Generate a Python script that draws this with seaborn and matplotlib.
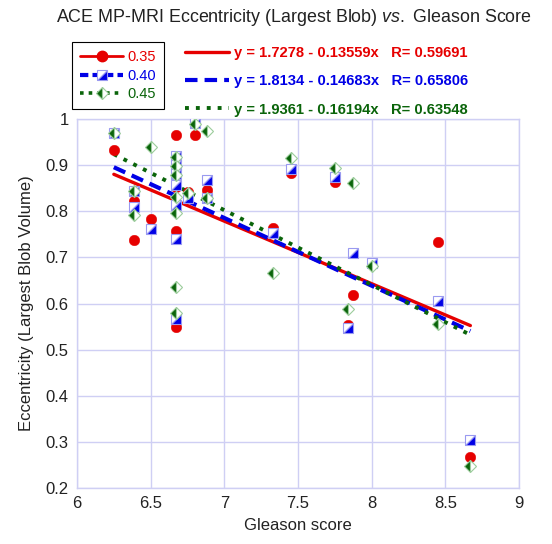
import matplotlib
matplotlib.use("Agg")
import matplotlib.pyplot as plt
from matplotlib.markers import MarkerStyle
from matplotlib.lines import Line2D
from matplotlib.transforms import Affine2D
import numpy as np
import pandas as pd
import seaborn as sns

# ---------------- data ----------------
gleason = [6.25, 6.39, 6.39, 6.50,
           6.67, 6.67, 6.67, 6.67, 6.67, 6.67, 6.67,
           6.75, 6.80, 6.88, 6.88,
           7.33, 7.45, 7.75, 7.87, 7.84, 8.00, 8.45, 8.67]
ecc_035 = [0.933, 0.823, 0.738, 0.783,
           0.912, 0.893, 0.965, 0.852, 0.812, 0.758, 0.549,
           0.843, 0.965, 0.866, 0.847,
           0.763, 0.884, 0.864, 0.618, 0.553, 0.685, 0.733, 0.267]
ecc_040 = [0.970, 0.845, 0.810, 0.761,
           0.920, 0.900, 0.880, 0.857, 0.814, 0.741, 0.567,
           0.830, 0.992, 0.869, 0.829,
           0.752, 0.891, 0.875, 0.709, 0.546, 0.687, 0.606, 0.303]
ecc_045 = [0.970, 0.845, 0.793, 0.940,
           0.918, 0.898, 0.878, 0.832, 0.796, 0.636, 0.580,
           0.840, 0.990, 0.974, 0.829,
           0.667, 0.915, 0.893, 0.861, 0.588, 0.681, 0.555, 0.248]

thresholds = ["0.35", "0.40", "0.45"]
intercepts = [1.7278, 1.8134, 1.9361]
slopes = [-0.13559, -0.14683, -0.16194]
r_values = [0.59691, 0.65806, 0.63548]

title_main = "ACE MP-MRI Eccentricity (Largest Blob) "
title_vs = "vs."
title_end = " Gleason Score"
xlabel = "Gleason score"
ylabel = "Eccentricity (Largest Blob Volume)"
xticks = [6, 6.5, 7, 7.5, 8, 8.5, 9]
xticklabels = ["6", "6.5", "7", "7.5", "8", "8.5", "9"]
yticks = [0.2, 0.3, 0.4, 0.5, 0.6, 0.7, 0.8, 0.9, 1.0]
yticklabels = ["0.2", "0.3", "0.4", "0.5", "0.6", "0.7", "0.8", "0.9", "1"]

# ---------------- style ----------------
sns.set_style("white")
plt.rcParams["font.family"] = ["Liberation Sans", "DejaVu Sans"]
plt.rcParams["mathtext.fontset"] = "custom"
plt.rcParams["mathtext.rm"] = "Liberation Sans"
plt.rcParams["mathtext.it"] = "Liberation Sans:italic"

RED = "#e60000"
BLUE = "#0000e6"
GREEN = "#0a640a"
GRID = "#cfcff4"

fig = plt.figure(figsize=(5.52, 5.44), dpi=100)
ax = fig.add_axes([0.1395, 0.103, 0.8007, 0.678])

df = pd.DataFrame({"gleason": gleason, "e035": ecc_035,
                   "e040": ecc_040, "e045": ecc_045})

# markers
m_circle = MarkerStyle("o", fillstyle="full")
m_square = MarkerStyle("D", fillstyle="right",
                       transform=Affine2D().rotate_deg(-45))
m_diamond = MarkerStyle("D", fillstyle="left")

marker_specs = [
    ("e035", dict(marker=m_circle, markersize=7.6, color=RED,
                  markerfacecolor=RED, markeredgecolor=RED,
                  markeredgewidth=0.3)),
    ("e040", dict(marker=m_square, markersize=7.0, color=BLUE,
                  markerfacecolor=BLUE, markerfacecoloralt="white",
                  markeredgecolor="#9a9af0", markeredgewidth=0.8)),
    ("e045", dict(marker=m_diamond, markersize=6.0, color=GREEN,
                  markerfacecolor=GREEN, markerfacecoloralt="white",
                  markeredgecolor="#9ccc9c", markeredgewidth=0.8)),
]
for col, kw in marker_specs:
    sns.lineplot(data=df, x="gleason", y=col, estimator=None, sort=False,
                 linestyle="none", ax=ax, zorder=3, **kw)

# regression lines
line_styles = [
    dict(color=RED, linewidth=2.4, linestyle="-"),
    dict(color=BLUE, linewidth=3.0, linestyle=(0, (3.0, 1.7))),
    dict(color=GREEN, linewidth=2.8, linestyle=(0, (1.0, 1.8))),
]
xfit = np.array([min(gleason), max(gleason)])
for a, b, st in zip(intercepts, slopes, line_styles):
    fit_df = pd.DataFrame({"x": xfit, "y": a + b * xfit})
    sns.lineplot(data=fit_df, x="x", y="y", estimator=None, sort=False,
                 ax=ax, zorder=2, **st)

# axes
ax.set_xlim(6, 9)
ax.set_ylim(0.2, 1.0)
ax.set_xticks(xticks)
ax.set_xticklabels(xticklabels)
ax.set_yticks(yticks)
ax.set_yticklabels(yticklabels)
ax.tick_params(length=0, labelsize=12, pad=6, colors="#222222")
ax.grid(True, color=GRID, linewidth=1.0)
for sp in ax.spines.values():
    sp.set_color(GRID)
    sp.set_linewidth(1.0)
ax.set_xlabel(xlabel, fontsize=12, color="#222222", labelpad=5)
ax.set_ylabel(ylabel, fontsize=12, color="#222222", labelpad=8)

fig.text(0.533, 0.967, title_main + r"$\it{" + title_vs + "}$" + title_end,
         ha="center", va="center", fontsize=12.9, color="#222222")

# legend 1: thresholds
h1 = [
    Line2D([], [], color=RED, linewidth=2, linestyle="-",
           marker="o", markersize=7.5, markerfacecolor=RED, markeredgecolor=RED),
    Line2D([], [], color=BLUE, linewidth=3, linestyle=(0, (2.0, 1.0)),
           marker=m_square, markersize=7, markerfacecolor=BLUE,
           markerfacecoloralt="white", markeredgecolor="#9a9af0",
           markeredgewidth=0.8),
    Line2D([], [], color=GREEN, linewidth=2.6, linestyle=(0, (1.0, 1.4)),
           marker=m_diamond, markersize=6, markerfacecolor=GREEN,
           markerfacecoloralt="white", markeredgecolor="#9ccc9c",
           markeredgewidth=0.8),
]
leg1 = fig.legend(h1, thresholds, loc="upper left",
                  bbox_to_anchor=(72 / 552, 1 - 42 / 544),
                  fontsize=10.5, labelcolor=[RED, BLUE, GREEN],
                  frameon=True, fancybox=False, edgecolor="black",
                  framealpha=1, handlelength=2.95, handletextpad=0.27,
                  labelspacing=0.32, borderpad=0.55, borderaxespad=0)
leg1.get_frame().set_linewidth(0.8)

# legend 2: regression equations
h2 = [Line2D([], [], **st) for st in line_styles]
eq_labels = [f"y = {a:.4f} - {-b:.5f}x   R= {r:.5f}"
             for a, b, r in zip(intercepts, slopes, r_values)]
leg2 = fig.legend(h2, eq_labels, loc="upper left",
                  bbox_to_anchor=(182 / 552, 1 - 43 / 544),
                  prop=dict(size=10.6, weight="bold"),
                  labelcolor=[RED, BLUE, GREEN], frameon=False,
                  handlelength=3.0, handletextpad=0.3,
                  labelspacing=0.97, borderpad=0.2, borderaxespad=0)

fig.savefig("out.png", dpi=100)
